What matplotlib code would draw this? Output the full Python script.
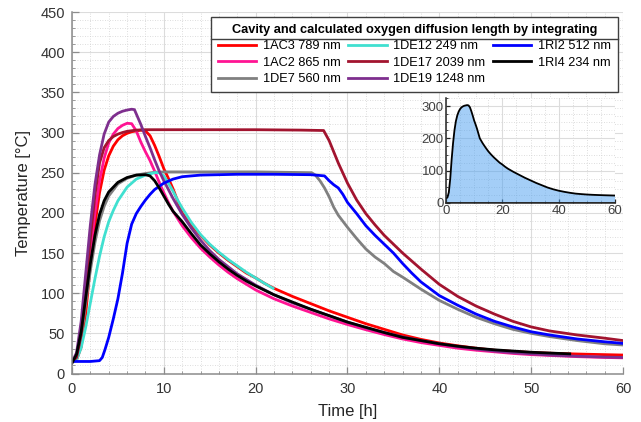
"""
plot.py
-------
Temperature vs. time curves for the cavity samples, with an inset
showing the 1AC3 profile as a filled area.
"""

import matplotlib
matplotlib.use("Agg")
import matplotlib.pyplot as plt
from matplotlib.lines import Line2D
from matplotlib.ticker import MultipleLocator

plt.rcParams["font.family"] = ["Liberation Sans", "DejaVu Sans"]

# ---- data (time in h, temperature in degC) ----
t_1AC3 = [0, 0.5, 1, 1.5, 2, 2.5, 3, 3.5, 4, 4.5, 5, 5.5, 6, 6.5, 7, 7.5, 8, 8.5,
          9, 9.5, 10, 10.5, 11, 12, 13, 14, 15, 16, 17, 18, 19, 20, 21, 22, 23,
          24, 25, 26, 28, 30, 32, 34, 36, 38, 40, 42, 44, 46, 48, 50, 52, 54,
          56, 58, 60]
T_1AC3 = [14, 17, 33, 75, 135, 185, 225, 253, 271, 283, 291, 296, 299, 301, 302,
          303, 302, 296, 284, 270, 255, 243, 230, 200, 185, 172, 160, 150, 141,
          133, 125, 119, 112, 106, 101, 96, 91.5, 87, 78, 70, 62, 55, 48, 42.5,
          38, 34.5, 31.5, 29, 27.5, 26.2, 25.3, 24.6, 24, 23.5, 23]

t_1AC2 = [0, 0.5, 1, 1.5, 2, 2.5, 3, 3.5, 4, 4.5, 5, 5.5, 6, 6.5, 7, 7.5, 8, 8.5,
          9, 9.5, 10, 10.5, 11, 12, 13, 14, 15, 16, 17, 18, 19, 20, 22, 24, 26,
          28, 30, 32, 34, 36, 38, 40, 42, 44, 46, 48, 50, 52, 55, 58, 60]
T_1AC2 = [14, 21, 48, 98, 152, 200, 240, 268, 287, 298, 305, 309, 311.5, 311,
          302, 288, 276, 265, 252, 238, 225, 213, 202, 184, 169, 156, 145, 135,
          126, 118, 111, 104, 93, 84, 76, 68, 61, 54.5, 48.5, 43, 38.5, 35,
          31.5, 29, 27, 25, 23.5, 22.5, 21, 20, 19.5]

t_1DE7 = [0, 0.5, 1, 1.5, 2, 2.5, 3, 3.5, 4, 5, 6, 7, 8, 9, 10, 12, 15, 20, 26.1,
          26.5, 27, 27.5, 28, 28.5, 29, 30, 31, 32, 33, 34, 35, 36, 38, 40, 42,
          44, 46, 48, 50, 52, 55, 58, 60]
T_1DE7 = [14, 20, 45, 88, 128, 163, 190, 208, 221, 236, 243, 247, 249, 250.5,
          251, 251, 251, 251, 250, 247, 240, 231, 220, 207, 197, 182, 168, 155,
          145, 137, 127, 120, 105, 91, 80, 70, 62, 55, 50, 46, 41, 37, 35.5]

t_1DE12 = [0, 0.5, 1, 1.5, 2, 2.5, 3, 3.5, 4, 4.5, 5, 6, 7, 8, 9, 9.5, 10, 10.5,
           11, 11.5, 12, 13, 14, 15, 16, 17, 18, 19, 20, 21, 21.9]
T_1DE12 = [14, 17, 32, 58, 88, 118, 146, 170, 189, 203, 215, 232, 242, 247, 250,
           250, 246, 237, 227, 216, 206, 188, 173, 161, 151, 142, 134, 126, 119,
           112, 106]

t_1DE17 = [0, 0.5, 1, 1.5, 2, 2.5, 3, 3.5, 4, 4.5, 5, 5.5, 6, 7, 8, 10, 15, 20,
           25, 27.4, 28, 29, 30, 31, 32, 33, 34, 35, 36, 38, 40, 42, 44, 46, 48,
           50, 52, 55, 58, 60]
T_1DE17 = [14, 20, 48, 105, 168, 222, 262, 281, 290, 295, 298, 300, 301.5, 303,
           303.5, 303.5, 303.5, 303.5, 303, 302.5, 290, 262, 237, 216, 199, 185,
           172, 161, 150, 130, 111, 96, 84, 74, 65, 58, 53, 48, 44, 41]

t_1DE19 = [0, 0.5, 1, 1.5, 2, 2.5, 3, 3.5, 4, 4.5, 5, 5.5, 6, 6.5, 6.8, 7.5, 8,
           8.5, 9, 9.5, 10, 10.5, 11, 12, 13, 14, 15, 16, 17, 18, 19, 20, 22, 24,
           26, 28, 30, 32, 34, 36, 38, 40, 42, 44, 46, 48, 50, 52, 55, 58, 60]
T_1DE19 = [14, 26, 65, 125, 185, 235, 272, 298, 313, 320, 324, 326.5, 328, 329,
           328.5, 310, 295, 281, 266, 252, 240, 229, 218, 198, 181, 166, 153,
           142, 133, 124, 117, 110, 98, 88, 80, 72, 64, 57, 51, 45.5, 41, 37,
           33.5, 30.5, 28, 26, 24.5, 23, 21.5, 20.5, 20]

t_1RI2 = [0, 1, 2, 3, 3.3, 3.6, 4, 4.5, 5, 5.5, 6, 6.5, 7, 7.5, 8, 8.5, 9, 10,
          11, 12, 14, 18, 22, 26, 27.5, 28, 28.5, 29, 29.5, 30, 31, 32, 33, 34,
          35, 36, 37, 38, 40, 42, 44, 46, 48, 50, 52, 55, 58, 60]
T_1RI2 = [15, 15, 15, 16, 20, 30, 45, 68, 93, 125, 162, 186, 199, 208, 216, 223,
          229, 237, 242, 245, 247, 248, 248, 247.5, 246, 240, 235, 231, 223, 213,
          199, 184, 172, 161, 150, 137, 125, 114, 97, 85, 74, 65, 58, 52, 48, 43,
          39.5, 37.5]

t_1RI4 = [0, 0.5, 1, 1.5, 2, 2.5, 3, 3.5, 4, 5, 6, 7, 8, 8.5, 9, 9.5, 10, 10.5,
          11, 12, 13, 14, 15, 16, 17, 18, 19, 20, 22, 24, 26, 28, 30, 32, 34, 36,
          38, 40, 42, 44, 46, 48, 50, 52, 54.2]
T_1RI4 = [13, 24, 52, 95, 137, 172, 198, 215, 226, 238, 244, 247, 247.5, 246,
          240, 231, 221, 211, 202, 189, 174, 160, 149, 139, 130, 122, 115, 109,
          98, 89, 80, 72, 64, 57.5, 51, 45, 41, 37, 34, 31.5, 29.5, 28, 26.5,
          25.5, 24.5]

labels = ["1AC3 789 nm", "1AC2 865 nm", "1DE7 560 nm", "1DE12 249 nm",
          "1DE17 2039 nm", "1DE19 1248 nm", "1RI2 512 nm", "1RI4 234 nm"]
colors = ["#ff0000", "#ff1493", "#808080", "#40e0d0",
          "#a2142f", "#7e2f8e", "#0000ff", "#000000"]
series = [(t_1AC3, T_1AC3), (t_1AC2, T_1AC2), (t_1DE7, T_1DE7),
          (t_1DE12, T_1DE12), (t_1DE17, T_1DE17), (t_1DE19, T_1DE19),
          (t_1RI2, T_1RI2), (t_1RI4, T_1RI4)]

legend_title = "Cavity and calculated oxygen diffusion length by integrating"


def style_axes(ax, spine_color, label_color, labelsize, ticklen):
    """Matlab-like look: grid on, minor grid dotted, ticks pointing in."""
    for side in ("top", "right"):
        ax.spines[side].set_visible(False)
    for side in ("left", "bottom"):
        ax.spines[side].set_color(spine_color)
        ax.spines[side].set_linewidth(1.1)
    ax.tick_params(which="major", direction="in", length=ticklen, width=0.9,
                   color=spine_color, labelcolor=label_color,
                   labelsize=labelsize)
    ax.tick_params(which="minor", direction="in", length=ticklen * 0.5,
                   width=0.6, color=spine_color)
    ax.grid(True, which="major", color="#dcdcdc", linewidth=0.8)
    ax.grid(True, which="minor", color="#d2d2d2", linewidth=0.6,
            linestyle=(0, (1, 2)))
    ax.set_axisbelow(True)


def main():
    fig = plt.figure(figsize=(6.41, 4.22), dpi=100)
    ax = fig.add_axes([0.1123, 0.1149, 0.8596, 0.8566])

    for (t, T), lab, col in zip(series, labels, colors):
        ax.plot(t, T, color=col, linewidth=2.0, label=lab,
                solid_joinstyle="round")

    ax.set_xlim(0, 60)
    ax.set_ylim(0, 450)
    ax.xaxis.set_major_locator(MultipleLocator(10))
    ax.xaxis.set_minor_locator(MultipleLocator(2))
    ax.yaxis.set_major_locator(MultipleLocator(50))
    ax.yaxis.set_minor_locator(MultipleLocator(10))
    style_axes(ax, "#8c8c8c", "#333333", 10.5, 5)
    ax.tick_params(axis="x", which="major", pad=6)
    ax.tick_params(axis="y", which="major", pad=5)

    ax.set_xlabel("Time [h]", fontsize=12, color="#262626", labelpad=6)
    ax.set_ylabel("Temperature [°C]", fontsize=12, color="#262626", labelpad=7)

    leg = ax.legend(loc="upper right", ncol=3, fontsize=9.2,
                    title=legend_title,
                    title_fontproperties={"weight": "bold", "size": 9.2},
                    bbox_to_anchor=(0.9636, 0.9604),
                    bbox_transform=fig.transFigure, borderaxespad=0,
                    handlelength=3.0, handletextpad=0.5, columnspacing=0.6,
                    labelspacing=0.35, borderpad=0.55, frameon=True,
                    fancybox=False, framealpha=1.0, edgecolor="#404040")
    leg.get_frame().set_linewidth(1.0)

    # inset: 1AC3 profile as filled area
    axin = fig.add_axes([0.6958, 0.519, 0.2637, 0.2488])
    axin.fill_between(t_1AC3, T_1AC3, 0, facecolor="#4a9ff0", alpha=0.5,
                      edgecolor="none")
    axin.plot(t_1AC3, T_1AC3, color="black", linewidth=1.3)
    axin.plot([0, 60], [0, 0], color="#262626", linewidth=2.0)
    axin.set_xlim(0, 60)
    axin.set_ylim(0, 325)
    axin.xaxis.set_major_locator(MultipleLocator(20))
    axin.xaxis.set_minor_locator(MultipleLocator(5))
    axin.yaxis.set_major_locator(MultipleLocator(100))
    axin.yaxis.set_minor_locator(MultipleLocator(25))
    style_axes(axin, "#262626", "#404040", 9.5, 3)
    axin.tick_params(which="both", pad=1.5)

    # separator under the legend title, as in the original
    fig.canvas.draw()
    inv = fig.transFigure.inverted()
    lb = leg.get_frame().get_window_extent()
    tb = leg.get_title().get_window_extent()
    (x0, y0), (x1, _) = inv.transform([(lb.x0, tb.y0 - 3), (lb.x1, tb.y0)])
    fig.add_artist(Line2D([x0, x1], [y0, y0], color="#404040", linewidth=1.0))

    fig.savefig("out.png", dpi=100)


if __name__ == "__main__":
    main()
